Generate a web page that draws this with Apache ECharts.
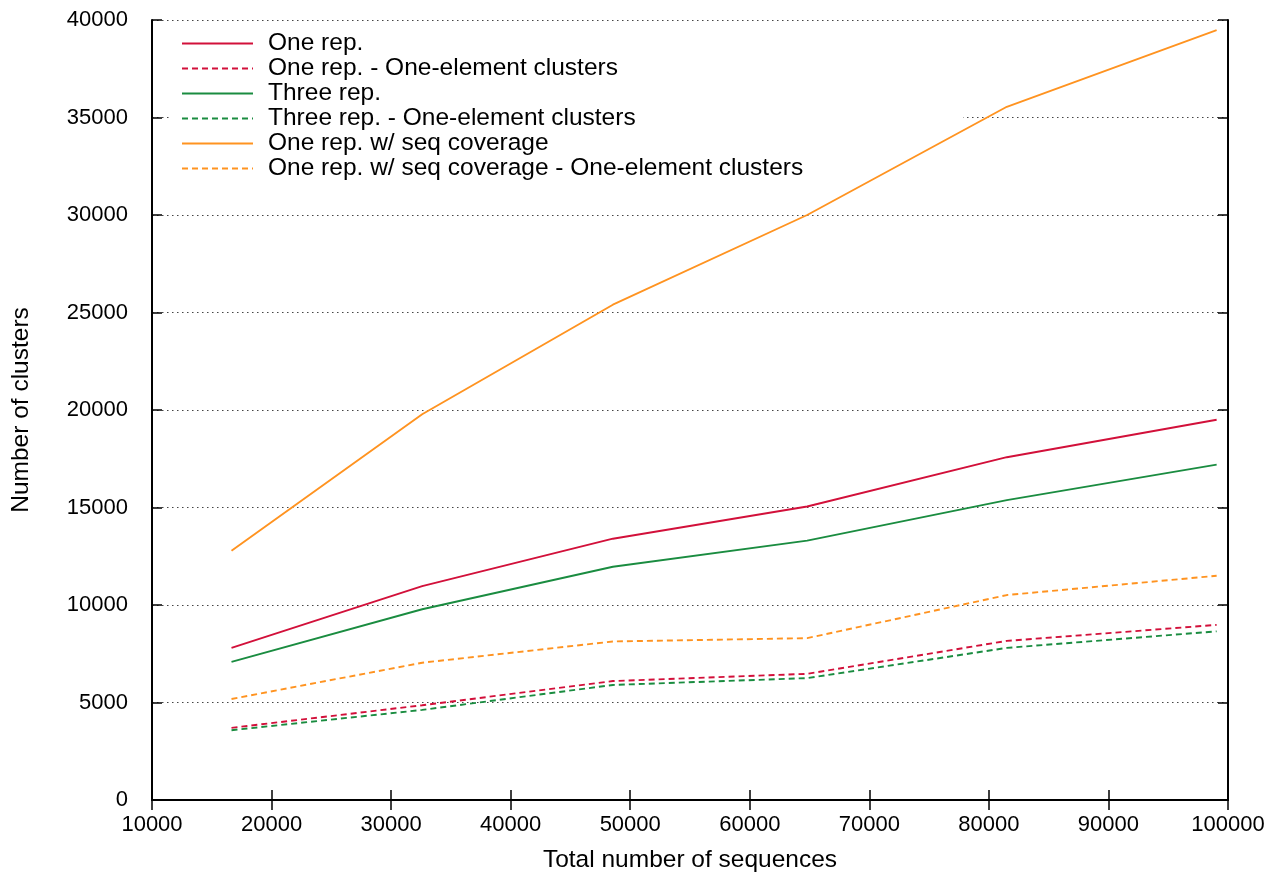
<!DOCTYPE html>
<html>
<head>
<meta charset="utf-8">
<script src="https://cdn.jsdelivr.net/npm/echarts@6/dist/echarts.min.js"></script>
<style>
html,body{margin:0;padding:0;background:#fff;}
#chart{width:1287px;height:879px;}
</style>
</head>
<body>
<div id="chart"></div>
<script>
// Data
var seqCounts = [16650, 32600, 48550, 64800, 81500, 99050];
var oneRep = [7800, 10970, 13400, 15050, 17580, 19500];
var oneRepSingle = [3700, 4860, 6100, 6470, 8160, 8980];
var threeRep = [7080, 9780, 11960, 13300, 15380, 17200];
var threeRepSingle = [3580, 4620, 5900, 6250, 7800, 8650];
var oneRepCov = [12780, 19780, 25400, 30000, 35550, 39480];
var oneRepCovSingle = [5180, 7040, 8130, 8300, 10510, 11500];
var seriesNames = [
  'One rep.',
  'One rep. - One-element clusters',
  'Three rep.',
  'Three rep. - One-element clusters',
  'One rep. w/ seq coverage',
  'One rep. w/ seq coverage - One-element clusters'
];
var xTicks = [10000, 20000, 30000, 40000, 50000, 60000, 70000, 80000, 90000, 100000];
var yTicks = [0, 5000, 10000, 15000, 20000, 25000, 30000, 35000, 40000];

var RED = '#d2103a', GREEN = '#1a8c40', ORANGE = '#ff9320';
var FONT = "'Liberation Sans', Arial, Helvetica, sans-serif";

function pairs(ys) { return seqCounts.map(function (x, i) { return [x, ys[i]]; }); }
function mk(name, ys, color, dashed) {
  return {
    name: name, type: 'line', data: pairs(ys), symbol: 'none', showSymbol: false,
    color: color,
    lineStyle: { color: color, width: 1.9, type: dashed ? [6, 4] : 'solid' },
    emphasis: { disabled: true }, animation: false, z: 3
  };
}
function plain(v) { return String(v); }

var chart = echarts.init(document.getElementById('chart'), null, { renderer: 'canvas' });
var axisLineStyle = { show: true, lineStyle: { color: '#000', width: 2 } };
var tickStyle = { show: true, inside: true, length: 10, lineStyle: { color: '#000', width: 1.5 } };

chart.setOption({
  animation: false,
  backgroundColor: '#fff',
  textStyle: { fontFamily: FONT },
  grid: { left: 152, right: 59, top: 20, bottom: 79, containLabel: false },
  legend: {
    orient: 'vertical', left: 171, top: 22,
    padding: [9, 160, 10, 10],
    backgroundColor: '#fff',
    itemWidth: 71, itemHeight: 14, itemGap: 0,
    itemStyle: { opacity: 0, borderWidth: 0 },
    textStyle: { fontFamily: FONT, fontSize: 24.5, color: '#000', lineHeight: 24.7, height: 24.7, padding: [0, 0, 0, 10] },
    data: seriesNames,
    selectedMode: false,
    z: 1
  },
  xAxis: [{
    type: 'value', min: xTicks[0], max: xTicks[xTicks.length - 1], interval: 10000,
    position: 'bottom',
    name: 'Total number of sequences', nameLocation: 'middle', nameGap: 48,
    nameTextStyle: { fontFamily: FONT, fontSize: 24.5, color: '#000' },
    axisLine: axisLineStyle, axisTick: tickStyle,
    axisLabel: { fontFamily: FONT, fontSize: 22, color: '#000', margin: 14, formatter: plain },
    splitLine: { show: false }
  }, {
    type: 'value', min: xTicks[0], max: xTicks[xTicks.length - 1], interval: 10000,
    position: 'top',
    axisLine: axisLineStyle, axisTick: tickStyle,
    axisLabel: { show: false }, splitLine: { show: false }
  }],
  yAxis: [{
    type: 'value', min: yTicks[0], max: yTicks[yTicks.length - 1], interval: 5000,
    position: 'left',
    name: 'Number of clusters', nameLocation: 'middle', nameGap: 118,
    nameTextStyle: { fontFamily: FONT, fontSize: 24.5, color: '#000' },
    axisLine: axisLineStyle, axisTick: tickStyle,
    axisLabel: { fontFamily: FONT, fontSize: 22, color: '#000', margin: 24, formatter: plain },
    splitLine: { show: true, lineStyle: { color: '#444', width: 1, type: [1.5, 3.5] } }
  }, {
    type: 'value', min: yTicks[0], max: yTicks[yTicks.length - 1], interval: 5000,
    position: 'right',
    axisLine: axisLineStyle, axisTick: tickStyle,
    axisLabel: { show: false }, splitLine: { show: false }
  }],
  series: [
    mk(seriesNames[0], oneRep, RED, false),
    mk(seriesNames[1], oneRepSingle, RED, true),
    mk(seriesNames[2], threeRep, GREEN, false),
    mk(seriesNames[3], threeRepSingle, GREEN, true),
    mk(seriesNames[4], oneRepCov, ORANGE, false),
    mk(seriesNames[5], oneRepCovSingle, ORANGE, true)
  ]
});
</script>
</body>
</html>
